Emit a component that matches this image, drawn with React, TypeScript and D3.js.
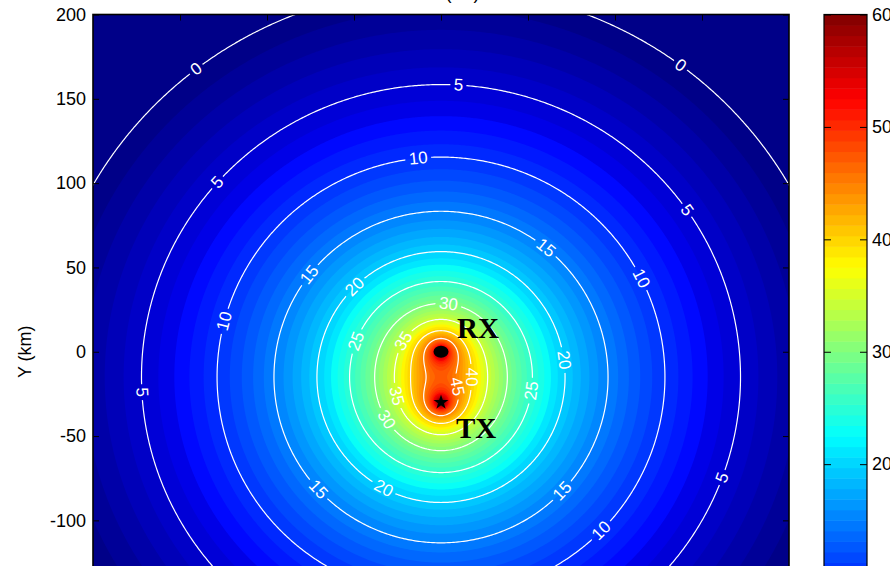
import React, { useEffect, useMemo, useRef } from "react";
import * as d3 from "d3";

// transmitter / receiver positions (km) and link budget
const txPos = [0, -30];
const rxPos = [0, 0];
const peakGain = 94.5; // dB, SNR = peakGain - 20log10(Rt*Rr)

const lineLevels = [0, 5, 10, 15, 20, 25, 30, 35, 40, 45];
const xTicks = [-150, -100, -50, 0, 50, 100, 150];
const yTicks = [-100, -50, 0, 50, 100, 150, 200];
const colorTicks = [20, 30, 40, 50, 60];

// [level, x km, y km] approximate clabel positions
const contourLabels = [
  [0, -141, 168], [0, 137, 169],
  [5, 10, 158], [5, -128, 100], [5, 140, 83], [5, -172, -24], [5, 160, -74],
  [10, -13, 114], [10, 112, 42], [10, -124, 18], [10, 91, -105],
  [15, 59, 60], [15, -76, 46], [15, -72, -83], [15, 68, -81],
  [20, -49, 38], [20, 70, -5], [20, -33, -81],
  [25, -48, 6], [25, 51, -23],
  [30, 4, 26], [30, -31, -40],
  [35, -21, 6], [35, -25, -26],
  [40, 17, -15],
  [45, 8, -21],
];

function snr(px: number, py: number) {
  const rt = Math.hypot(px - txPos[0], py - txPos[1]);
  const rr = Math.hypot(px - rxPos[0], py - rxPos[1]);
  return Math.min(80, peakGain - 20 * Math.log10(rt * rr));
}

const jet = d3
  .scaleLinear<string>()
  .domain([0, 0.125, 0.375, 0.625, 0.875, 1])
  .range(["#000080", "#0000ff", "#00ffff", "#ffff00", "#ff0000", "#800000"]);
const jet64 = d3.range(64).map((k) => jet((k + 0.5) / 64));

export default function App() {
  const W = 890;
  const H = 566;
  const left = 93, right = 789, top = 14.5, bottom = 689;
  const cbX0 = 824, cbX1 = 867;
  const font = "'Liberation Sans', Arial, sans-serif";

  const x = d3.scaleLinear().domain([-200, 200]).range([left, right]);
  const y = d3.scaleLinear().domain([-200, 200]).range([bottom, top]);
  const cScale = d3.scaleLinear().domain([0, 60]).range([bottom, top]);
  const colorOf = d3.scaleQuantize<string>().domain([0, 60]).range(jet64);

  const axRef = useRef<SVGGElement>(null);

  const { fills, lines } = useMemo(() => {
    const step = 1;
    const g0 = -205;
    const n = 411;
    const values = new Float64Array(n * n);
    for (let j = 0; j < n; j++)
      for (let i = 0; i < n; i++) values[i + j * n] = snr(g0 + i * step, g0 + j * step);
    const path = d3.geoPath(
      d3.geoTransform({
        point: function (cx, cy) {
          this.stream.point(x(g0 + (cx - 0.5) * step), y(g0 + (cy - 0.5) * step));
        },
      })
    );
    const gen = d3.contours().size([n, n]);
    const arr = Array.from(values);
    const fills = d3.range(0, 60, 1).map((t) => ({ t, d: path(gen.contour(arr, t)) || "" }));
    const lines = lineLevels.map((t) => ({ t, d: path(gen.contour(arr, t)) || "" }));
    return { fills, lines };
  }, []);

  const labels = useMemo(() => {
    return contourLabels.map(([lev, lx, ly]) => {
      let p = [lx, ly];
      const h = 0.01;
      let gx = 0, gy = 0;
      for (let k = 0; k < 8; k++) {
        const f = snr(p[0], p[1]);
        gx = (snr(p[0] + h, p[1]) - snr(p[0] - h, p[1])) / (2 * h);
        gy = (snr(p[0], p[1] + h) - snr(p[0], p[1] - h)) / (2 * h);
        const g2 = gx * gx + gy * gy;
        if (g2 < 1e-12) break;
        const dd = (lev - f) / g2;
        p = [p[0] + dd * gx, p[1] + dd * gy];
      }
      const sx = -gy * (x(1) - x(0));
      const sy = gx * (y(1) - y(0));
      let ang = (Math.atan2(sy, sx) * 180) / Math.PI;
      if (ang > 90) ang -= 180;
      if (ang <= -90) ang += 180;
      return { lev, px: x(p[0]), py: y(p[1]), ang };
    });
  }, []);

  useEffect(() => {
    const g = d3.select(axRef.current);
    g.selectAll("*").remove();
    const style = (sel: any) => {
      sel.attr("font-size", 18).attr("font-family", font);
      sel.select(".domain").remove();
      sel.selectAll("line").attr("stroke", "#000");
      sel.selectAll("text").attr("fill", "#000");
    };
    const plain = (d: any) => String(d);
    g.append("g")
      .attr("transform", `translate(${left},0)`)
      .call(d3.axisLeft(y).tickValues(yTicks).tickSize(-6).tickSizeOuter(0).tickPadding(7).tickFormat(plain))
      .call(style);
    g.append("g")
      .attr("transform", `translate(${right},0)`)
      .call(d3.axisRight(y).tickValues(yTicks).tickSize(-6).tickSizeOuter(0).tickFormat(() => ""))
      .call(style);
    g.append("g")
      .attr("transform", `translate(0,${top})`)
      .call(d3.axisTop(x).tickValues(xTicks).tickSize(-6).tickSizeOuter(0).tickFormat(() => ""))
      .call(style);
    g.append("g")
      .attr("transform", `translate(${cbX1},0)`)
      .call(d3.axisRight(cScale).tickValues(colorTicks).tickSize(-7).tickSizeOuter(0).tickPadding(5).tickFormat(plain))
      .call(style);
    g.append("g")
      .attr("transform", `translate(${cbX0},0)`)
      .call(d3.axisLeft(cScale).tickValues(colorTicks).tickSize(-7).tickSizeOuter(0).tickFormat(() => ""))
      .call(style);
  }, []);

  const star = d3.symbol(d3.symbolStar, 70)() || "";

  return (
    <svg
      width={W}
      height={H}
      style={{ position: "absolute", left: 0, top: 0, background: "#fff" }}
    >
      <defs>
        <clipPath id="plotClip">
          <rect x={left} y={top} width={right - left} height={bottom - top} />
        </clipPath>
        <mask id="labelMask" maskUnits="userSpaceOnUse" x={0} y={0} width={W} height={H}>
          <rect x={0} y={0} width={W} height={H} fill="#fff" />
          {labels.map((l, i) => {
            const w = String(l.lev).length * 10 + 6;
            return (
              <rect
                key={i}
                x={-w / 2}
                y={-8}
                width={w}
                height={16}
                fill="#000"
                transform={`translate(${l.px},${l.py}) rotate(${l.ang})`}
              />
            );
          })}
        </mask>
      </defs>

      <g clipPath="url(#plotClip)">
        <rect x={left} y={top} width={right - left} height={bottom - top} fill={jet64[0]} />
        {fills.map((f) => (
          <path key={f.t} d={f.d} fill={colorOf(f.t + 0.5)} stroke="none" />
        ))}
        <g mask="url(#labelMask)">
          {lines.map((l) => (
            <path key={l.t} d={l.d} fill="none" stroke="#fff" strokeWidth={1.2} />
          ))}
        </g>
        {labels.map((l, i) => (
          <text
            key={i}
            transform={`translate(${l.px},${l.py}) rotate(${l.ang})`}
            textAnchor="middle"
            dominantBaseline="central"
            fill="#fff"
            fontSize={17}
            fontFamily={font}
          >
            {l.lev}
          </text>
        ))}
        <ellipse cx={x(rxPos[0])} cy={y(rxPos[1])} rx={7.5} ry={6} fill="#000" />
        <path d={star} transform={`translate(${x(txPos[0])},${y(txPos[1])})`} fill="#000" />
        <text
          x={x(rxPos[0]) + 16}
          y={y(rxPos[1]) - 14}
          fontFamily="'Liberation Serif', 'Times New Roman', serif"
          fontWeight="bold"
          fontSize={29}
          fill="#000"
        >
          RX
        </text>
        <text
          x={x(txPos[0]) + 15}
          y={y(txPos[1]) + 36}
          fontFamily="'Liberation Serif', 'Times New Roman', serif"
          fontWeight="bold"
          fontSize={29}
          fill="#000"
        >
          TX
        </text>
      </g>
      <rect
        x={left}
        y={top}
        width={right - left}
        height={bottom - top}
        fill="none"
        stroke="#000"
        strokeWidth={1.6}
      />

      {d3.range(64).map((k) => (
        <rect
          key={k}
          x={cbX0}
          y={cScale(((k + 1) * 60) / 64)}
          width={cbX1 - cbX0}
          height={cScale((k * 60) / 64) - cScale(((k + 1) * 60) / 64) + 0.5}
          fill={jet64[k]}
        />
      ))}
      <rect
        x={cbX0}
        y={top}
        width={cbX1 - cbX0}
        height={bottom - top}
        fill="none"
        stroke="#000"
        strokeWidth={1.2}
      />
      <g ref={axRef} />

      <text x={(left + right) / 2} y={-1} textAnchor="middle" fontSize={18} fontFamily={font}>
        SNR (dB)
      </text>
      <text
        transform={`translate(25,${y(0)}) rotate(-90)`}
        textAnchor="middle"
        dominantBaseline="central"
        fontSize={18}
        fontFamily={font}
      >
        Y (km)
      </text>
    </svg>
  );
}
